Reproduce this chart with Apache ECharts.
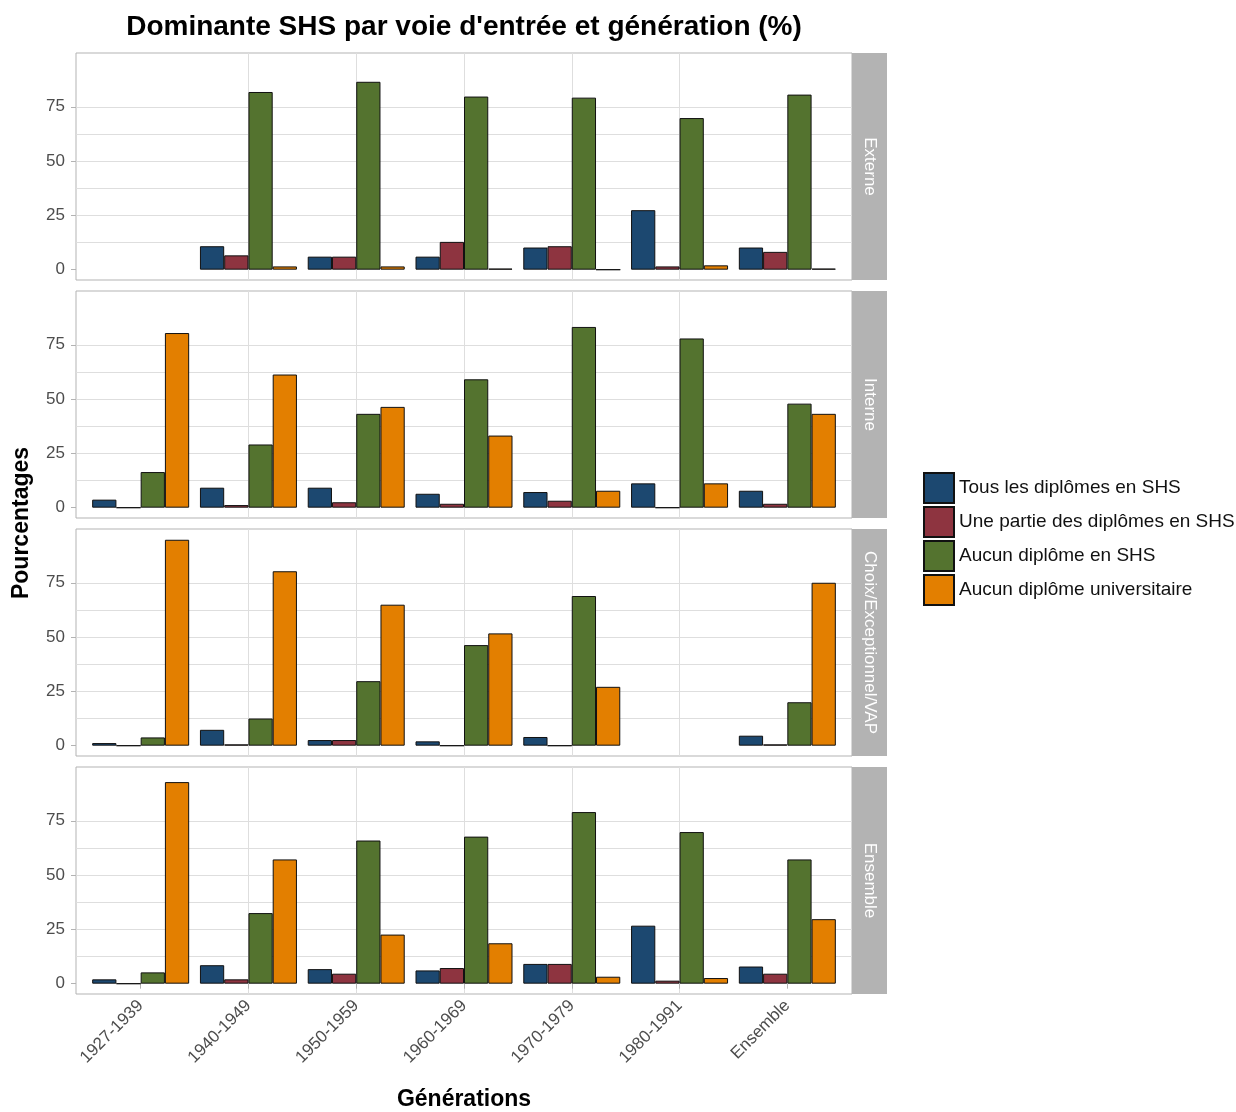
<!DOCTYPE html>
<html>
<head>
<meta charset="utf-8">
<script src="https://cdn.jsdelivr.net/npm/echarts@6/dist/echarts.min.js"></script>
<style>
html,body{margin:0;padding:0;background:#fff;}
#chart{width:1236px;height:1112px;}
</style>
</head>
<body>
<div id="chart"></div>
<script>
// ---- Data ----
const categories = ['1927-1939','1940-1949','1950-1959','1960-1969','1970-1979','1980-1991','Ensemble'];
const seriesNames = ['Tous les diplômes en SHS','Une partie des diplômes en SHS','Aucun diplôme en SHS','Aucun diplôme universitaire'];
const panelNames = ['Externe','Interne','Choix/Exceptionnel/VAP','Ensemble'];
const yTicks = [0, 25, 50, 75];
const yGridLines = [0, 12.5, 25, 37.5, 50, 62.5, 75, 87.5];

const externeTous     = [null, 10.8, 6.0, 6.0, 10.2, 27.4, 10.2];
const externePartie   = [null, 6.6, 6.0, 12.8, 10.8, 1.5, 8.2];
const externeAucunSHS = [null, 81.8, 86.5, 79.7, 79.2, 69.8, 80.6];
const externeAucunUni = [null, 1.5, 1.5, 0.5, 0.0, 2.0, 0.5];

const interneTous     = [3.7, 9.2, 9.2, 6.4, 7.2, 11.2, 7.8];
const internePartie   = [0.0, 1.2, 2.5, 1.8, 3.2, 0.0, 1.8];
const interneAucunSHS = [16.4, 29.1, 43.2, 59.1, 83.2, 77.9, 47.9];
const interneAucunUni = [80.4, 61.3, 46.4, 33.2, 7.8, 11.2, 43.2];

const choixTous     = [1.2, 7.3, 2.6, 2.0, 4.0, null, 4.6];
const choixPartie   = [0.0, 0.6, 2.6, 0.0, 0.0, null, 0.6];
const choixAucunSHS = [3.8, 12.5, 29.7, 46.3, 68.9, null, 20.0];
const choixAucunUni = [94.8, 80.3, 64.9, 51.7, 27.1, null, 75.0];

const ensembleTous     = [2.0, 8.5, 6.7, 6.1, 9.1, 26.7, 7.9];
const ensemblePartie   = [0.0, 2.0, 4.6, 7.2, 9.1, 1.4, 4.6];
const ensembleAucunSHS = [5.2, 32.5, 65.9, 67.7, 79.0, 69.8, 57.2];
const ensembleAucunUni = [92.8, 57.2, 22.6, 18.6, 3.2, 2.6, 29.7];

const panelValues = [
  [externeTous, externePartie, externeAucunSHS, externeAucunUni],
  [interneTous, internePartie, interneAucunSHS, interneAucunUni],
  [choixTous, choixPartie, choixAucunSHS, choixAucunUni],
  [ensembleTous, ensemblePartie, ensembleAucunSHS, ensembleAucunUni]
];

// ---- Styling / layout ----
const colors = ['#1c4870', '#8e3440', '#54732f', '#e37f00'];
const FONT = "'Liberation Sans', Arial, sans-serif";
const P_LEFT = 76, P_W = 776, P_TOP = 53, P_H = 227, P_STEP = 238, STRIP_W = 35;
const GRID_COL = '#dedede', BORDER_COL = '#b3b3b3', TEXT_COL = '#4d4d4d';
const Y_MIN = -4.75, Y_MAX = 99.75;

const grids = [], xAxes = [], yAxes = [], series = [], graphics = [];
panelNames.forEach((pname, i) => {
  const top = P_TOP + i * P_STEP;
  const last = i === panelNames.length - 1;
  grids.push({left: P_LEFT, top: top, width: P_W, height: P_H, show: true,
    borderColor: BORDER_COL, borderWidth: 1, backgroundColor: '#fff'});
  xAxes.push({
    type: 'value', gridIndex: i, min: 0.4, max: 7.6, minInterval: 1, maxInterval: 1,
    axisLine: {show: false},
    axisTick: {show: last, length: 5, lineStyle: {color: BORDER_COL}, customValues: [1,2,3,4,5,6,7]},
    axisLabel: {show: last, customValues: [1,2,3,4,5,6,7], rotate: 45, margin: 9,
      color: TEXT_COL, fontSize: 17, fontFamily: FONT,
      formatter: v => (Number.isInteger(v) && v >= 1 && v <= 7) ? categories[v - 1] : ''},
    splitLine: {show: true, showMinLine: false, showMaxLine: false, lineStyle: {color: GRID_COL, width: 1}},
    name: last ? 'Générations' : '', nameLocation: 'middle', nameGap: 94,
    nameTextStyle: {fontSize: 23, fontWeight: 'bold', color: '#000', fontFamily: FONT}
  });
  // primary y axis: labels and ticks
  yAxes.push({
    type: 'value', gridIndex: i, min: Y_MIN, max: Y_MAX, minInterval: 25, maxInterval: 25,
    axisLine: {show: false},
    axisTick: {show: true, length: 5, lineStyle: {color: BORDER_COL}, customValues: yTicks},
    axisLabel: {customValues: yTicks, color: TEXT_COL, fontSize: 17, margin: 11, fontFamily: FONT,
      formatter: v => (yTicks.indexOf(v) >= 0 ? String(v) : '')},
    splitLine: {show: false}
  });
  // secondary y axis: major + minor grid lines
  yAxes.push({
    type: 'value', gridIndex: i, position: 'left', min: Y_MIN, max: Y_MAX,
    axisLine: {show: false},
    axisTick: {show: false, customValues: yGridLines},
    axisLabel: {show: false, customValues: yGridLines},
    splitLine: {show: true, showMinLine: false, showMaxLine: false, lineStyle: {color: GRID_COL, width: 1}}
  });
  seriesNames.forEach((sname, s) => {
    const data = panelValues[i][s].map((v, k) => v == null ? null : [k + 1, v]).filter(d => d);
    series.push({
      type: 'bar', name: sname, xAxisIndex: i, yAxisIndex: 2 * i, data: data,
      barWidth: '22.5%', barGap: '0%',
      itemStyle: {color: colors[s], borderColor: '#111', borderWidth: 1},
      emphasis: {disabled: true}, animation: false
    });
  });
  graphics.push({type: 'rect', left: P_LEFT + P_W, top: top,
    shape: {width: STRIP_W, height: P_H}, style: {fill: BORDER_COL}, silent: true});
  graphics.push({type: 'text', x: P_LEFT + P_W + STRIP_W / 2, y: top + P_H / 2, rotation: -Math.PI / 2,
    style: {text: pname, fill: '#ffffff', font: '17px ' + FONT, textAlign: 'center', textVerticalAlign: 'middle'},
    silent: true});
});

graphics.push({type: 'text', x: 464, y: 27,
  style: {text: "Dominante SHS par voie d'entrée et génération (%)", fill: '#000',
    font: 'bold 28px ' + FONT, textAlign: 'center', textVerticalAlign: 'middle'}});
graphics.push({type: 'text', x: 22, y: 523, rotation: Math.PI / 2,
  style: {text: 'Pourcentages', fill: '#000', font: 'bold 23px ' + FONT,
    textAlign: 'center', textVerticalAlign: 'middle'}});

const chart = echarts.init(document.getElementById('chart'), null, {renderer: 'canvas'});
chart.setOption({
  backgroundColor: '#fff',
  animation: false,
  textStyle: {fontFamily: FONT},
  grid: grids,
  xAxis: xAxes,
  yAxis: yAxes,
  series: series,
  legend: {
    data: seriesNames, orient: 'vertical', left: 923, top: 472, padding: 0,
    itemWidth: 30, itemHeight: 30, itemGap: 2, icon: 'rect', selectedMode: false,
    textStyle: {fontSize: 19, color: '#111', fontFamily: FONT}
  },
  graphic: graphics
});
</script>
</body>
</html>
